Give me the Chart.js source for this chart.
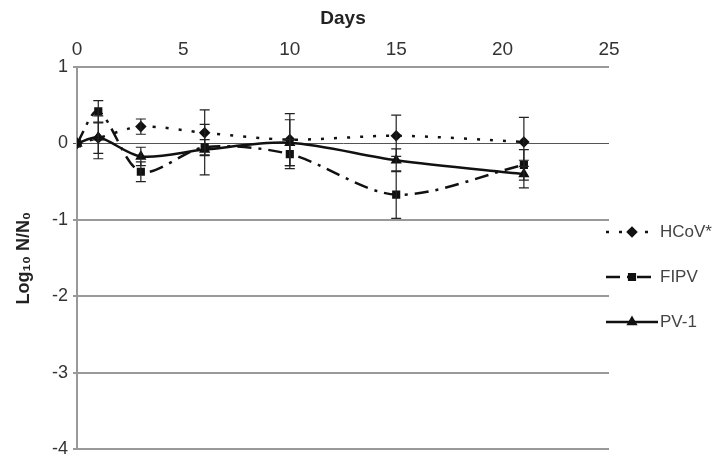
<!DOCTYPE html>
<html>
<head>
<meta charset="utf-8">
<script src="https://cdn.jsdelivr.net/npm/chart.js@4/dist/chart.umd.min.js"></script>
<style>
  html, body { margin: 0; padding: 0; background: #fff; }
  #wrap { width: 717px; height: 465px; }
</style>
</head>
<body>
<div id="wrap"><canvas id="chart" width="717" height="465"></canvas></div>
<script>
// days of sampling
const days = [0, 1, 3, 6, 10, 15, 21];

// log10 N/N0 per virus
const hcov = [0, 0.07, 0.22, 0.14, 0.05, 0.1, 0.02];
const fipv = [0, 0.42, -0.37, -0.05, -0.14, -0.67, -0.28];
const pv1 = [0, 0.08, -0.17, -0.08, 0.01, -0.22, -0.4];

// error bar half widths
const hcovErr = [0, 0.2, 0.1, 0.3, 0.34, 0.27, 0.32];
const fipvErr = [0, 0.14, 0.13, 0.1, 0.19, 0.31, 0.2];
const pv1Err = [0, 0.28, 0.12, 0.33, 0.3, 0.15, 0.18];

const seriesNames = ['HCoV*', 'FIPV', 'PV-1'];
const xTicks = [0, 5, 10, 15, 20, 25];
const yTicks = [1, 0, -1, -2, -3, -4];

const FONT = '"Liberation Sans", Arial, sans-serif';
const toPts = (vals) => vals.map((v, i) => ({ x: days[i], y: v }));

const styles = [
  { dash: [3, 10], point: 'rectRot', radius: 4 },
  { dash: [14, 7, 3, 7], point: 'rect', radius: 4 },
  { dash: [], point: 'triangle', radius: 4 }
];
const values = [hcov, fipv, pv1];
const errors = [hcovErr, fipvErr, pv1Err];

// error bars drawn through the scales
const errorBars = {
  id: 'errorBars',
  afterDatasetsDraw(chart) {
    const ctx = chart.ctx;
    const xs = chart.scales.x, ys = chart.scales.y;
    ctx.save();
    ctx.strokeStyle = '#222';
    ctx.lineWidth = 1.2;
    ctx.setLineDash([]);
    errors.forEach((errs, s) => {
      errs.forEach((e, i) => {
        if (!e) return;
        const x = xs.getPixelForValue(days[i]);
        const y1 = ys.getPixelForValue(values[s][i] + e);
        const y2 = ys.getPixelForValue(values[s][i] - e);
        ctx.beginPath();
        ctx.moveTo(x, y1); ctx.lineTo(x, y2);
        ctx.moveTo(x - 5, y1); ctx.lineTo(x + 5, y1);
        ctx.moveTo(x - 5, y2); ctx.lineTo(x + 5, y2);
        ctx.stroke();
      });
    });
    ctx.restore();
  }
};

// legend at the right side like the original figure
const sideLegend = {
  id: 'sideLegend',
  afterDraw(chart) {
    const ctx = chart.ctx;
    const rowsY = [232, 277, 322];
    ctx.save();
    seriesNames.forEach((name, i) => {
      const y = rowsY[i];
      ctx.strokeStyle = '#111';
      ctx.lineWidth = 2.5;
      ctx.setLineDash(styles[i].dash);
      ctx.beginPath();
      ctx.moveTo(606, y); ctx.lineTo(658, y);
      ctx.stroke();
      ctx.setLineDash([]);
      Chart.helpers.drawPoint(ctx, { pointStyle: styles[i].point, radius: 4, rotation: 0, borderWidth: 1 }, 632, y);
      ctx.fillStyle = '#111';
      ctx.fill();
      ctx.fillStyle = '#444';
      ctx.font = '17px ' + FONT;
      ctx.textBaseline = 'middle';
      ctx.textAlign = 'left';
      ctx.fillText(name, 660, y);
    });
    ctx.restore();
  }
};

const config = {
  type: 'line',
  data: {
    datasets: seriesNames.map((name, i) => ({
      label: name,
      data: toPts(values[i]),
      borderColor: '#111',
      backgroundColor: '#111',
      borderWidth: 2.5,
      borderDash: styles[i].dash,
      pointStyle: styles[i].point,
      pointRadius: styles[i].radius,
      tension: 0.3
    }))
  },
  options: {
    responsive: false,
    animation: false,
    layout: { padding: { left: 0, right: 108, top: 0, bottom: 5 } },
    plugins: { legend: { display: false }, tooltip: { enabled: false } },
    scales: {
      x: {
        type: 'linear',
        position: 'top',
        min: 0,
        max: 25,
        afterBuildTicks: (s) => { s.ticks = xTicks.map(v => ({ value: v })); },
        afterFit: (s) => { s.height = 67; },
        grid: { display: false, drawTicks: false },
        border: { display: false },
        ticks: {
          padding: 6,
          color: '#333',
          font: { family: FONT, size: 19 }
        },
        title: {
          display: true,
          text: 'Days',
          color: '#222',
          padding: { top: 7, bottom: 0 },
          font: { family: FONT, size: 19, weight: 'bold' }
        }
      },
      y: {
        min: -4,
        max: 1,
        afterBuildTicks: (s) => { s.ticks = yTicks.map(v => ({ value: v })); },
        afterFit: (s) => { s.width = 77; },
        grid: {
          color: (c) => c.tick && c.tick.value === 0 ? '#555' : '#999',
          lineWidth: (c) => c.tick && c.tick.value === 0 ? 1 : 2,
          tickLength: 4
        },
        border: { display: true, color: '#999', width: 2 },
        ticks: {
          padding: 5,
          color: '#333',
          font: { family: FONT, size: 18 }
        },
        title: {
          display: true,
          text: 'Log\u2081\u2080 N/N\u2080',
          color: '#222',
          padding: { top: 13, bottom: 0 },
          font: { family: FONT, size: 18, weight: 'bold' }
        }
      }
    }
  },
  plugins: [errorBars, sideLegend]
};

new Chart(document.getElementById('chart').getContext('2d'), config);
</script>
</body>
</html>
